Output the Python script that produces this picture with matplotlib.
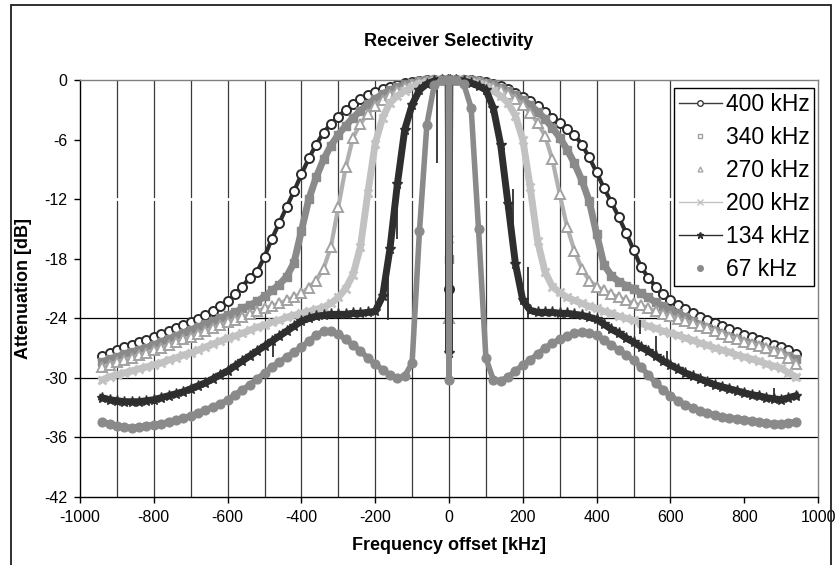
import matplotlib
matplotlib.use('Agg')
import matplotlib.pyplot as plt
from matplotlib.patches import Rectangle
from matplotlib.lines import Line2D

plt.rcParams['font.family'] = ['Liberation Sans', 'DejaVu Sans']
plt.rcParams['axes.unicode_minus'] = False

# frequency sweep (kHz): negative side, narrow DC region, positive side
freq_neg_khz = list(range(-940, -19, 20))
freq_dc_khz = [-2, 0, 2]
freq_pos_khz = list(range(20, 941, 20))

labels = ['400 kHz', '340 kHz', '270 kHz', '200 kHz', '134 kHz', '67 kHz']

# attenuation [dB], -940 -> -20 kHz
db_400_neg = [-27.8, -27.5, -27.2, -26.9, -26.7, -26.4, -26.2, -25.9, -25.6, -25.3,
              -25.0, -24.7, -24.4, -24.1, -23.7, -23.3, -22.8, -22.3, -21.6, -20.8,
              -19.9, -19.3, -17.8, -16.0, -14.4, -12.8, -11.2, -9.5, -7.9, -6.5,
              -5.3, -4.4, -3.7, -3.0, -2.4, -1.9, -1.5, -1.2, -0.9, -0.7,
              -0.5, -0.3, -0.2, -0.1, 0.0, 0.0, 0.0]
db_340_neg = [-28.4, -28.1, -27.9, -27.6, -27.4, -27.2, -27.0, -26.7, -26.4, -26.1,
              -25.8, -25.5, -25.2, -24.9, -24.6, -24.3, -24.0, -23.7, -23.4, -23.0,
              -22.7, -22.3, -21.8, -21.2, -20.6, -19.8, -18.4, -15.2, -12.0, -9.8,
              -8.0, -6.6, -5.5, -4.6, -3.8, -3.1, -2.4, -1.9, -1.4, -1.0,
              -0.7, -0.5, -0.3, -0.1, 0.0, 0.0, 0.0]
db_270_neg = [-28.9, -28.7, -28.4, -28.2, -28.0, -27.7, -27.5, -27.2, -27.0, -26.7,
              -26.4, -26.1, -25.9, -25.6, -25.3, -25.0, -24.7, -24.4, -24.2, -23.9,
              -23.6, -23.3, -23.0, -22.8, -22.5, -22.2, -21.9, -21.5, -20.9, -20.2,
              -19.0, -16.8, -12.8, -8.8, -5.8, -4.4, -3.4, -2.6, -2.0, -1.5,
              -1.1, -0.7, -0.4, -0.2, -0.1, 0.0, 0.0]
db_200_neg = [-30.2, -29.9, -29.7, -29.5, -29.3, -29.1, -28.9, -28.7, -28.5, -28.2,
              -28.0, -27.7, -27.5, -27.2, -26.9, -26.6, -26.3, -26.0, -25.8, -25.5,
              -25.2, -24.9, -24.7, -24.4, -24.2, -23.9, -23.7, -23.5, -23.3, -23.1,
              -22.9, -22.5, -21.9, -21.0, -19.6, -16.8, -11.4, -6.4, -3.8, -2.3,
              -1.6, -1.1, -0.7, -0.4, -0.2, -0.1, 0.0]
db_134_neg = [-32.0, -32.2, -32.3, -32.4, -32.4, -32.4, -32.3, -32.2, -32.0, -31.8,
              -31.6, -31.4, -31.1, -30.8, -30.5, -30.1, -29.7, -29.3, -28.8, -28.3,
              -27.8, -27.3, -26.8, -26.3, -25.8, -25.3, -24.8, -24.3, -24.0, -23.8,
              -23.7, -23.6, -23.6, -23.6, -23.5, -23.5, -23.4, -23.3, -21.8, -17.0,
              -10.5, -5.0, -2.5, -1.0, -0.4, -0.1, 0.0]
db_67_neg = [-34.4, -34.6, -34.8, -34.9, -35.0, -34.9, -34.8, -34.7, -34.6, -34.4,
             -34.2, -34.0, -33.8, -33.5, -33.2, -32.9, -32.6, -32.2, -31.7, -31.2,
             -30.7, -30.1, -29.5, -28.9, -28.4, -27.9, -27.4, -26.9, -26.3, -25.7,
             -25.3, -25.3, -25.6, -26.1, -26.7, -27.3, -28.0, -28.6, -29.2, -29.7,
             -30.0, -29.8, -28.5, -15.2, -4.5, -0.5, 0.0]

# attenuation [dB], 20 -> 940 kHz
db_400_pos = [0.0, 0.0, 0.0, -0.1, -0.2, -0.4, -0.6, -0.9, -1.3, -1.7,
              -2.1, -2.6, -3.2, -3.8, -4.3, -4.9, -5.5, -6.5, -7.8, -9.3,
              -10.9, -12.3, -13.8, -15.4, -17.1, -18.8, -19.9, -20.8, -21.6, -22.2,
              -22.7, -23.1, -23.5, -23.9, -24.2, -24.5, -24.8, -25.1, -25.4, -25.7,
              -25.9, -26.2, -26.4, -26.7, -26.9, -27.2, -27.6]
db_340_pos = [0.0, 0.0, 0.0, -0.1, -0.3, -0.5, -0.8, -1.1, -1.5, -2.0,
              -2.5, -3.2, -3.9, -4.8, -5.8, -7.0, -8.4, -10.1, -12.2, -15.5,
              -18.6, -19.7, -20.3, -20.7, -21.0, -21.5, -21.9, -22.4, -22.8, -23.2,
              -23.5, -23.9, -24.3, -24.7, -25.0, -25.3, -25.6, -25.9, -26.1, -26.4,
              -26.6, -26.8, -27.1, -27.3, -27.5, -27.8, -28.1]
db_270_pos = [0.0, 0.0, -0.1, -0.2, -0.4, -0.7, -1.0, -1.4, -1.9, -2.5,
              -3.3, -4.3, -5.6, -8.0, -11.5, -14.8, -17.2, -19.0, -20.2, -20.8,
              -21.2, -21.6, -21.9, -22.2, -22.5, -22.7, -23.0, -23.3, -23.6, -23.8,
              -24.1, -24.3, -24.5, -24.8, -25.0, -25.3, -25.6, -25.9, -26.1, -26.4,
              -26.6, -26.8, -27.0, -27.3, -27.5, -28.0, -28.6]
db_200_pos = [0.0, -0.1, -0.2, -0.4, -0.7, -1.1, -1.6, -2.3, -3.6, -6.0,
              -10.8, -16.2, -19.3, -20.8, -21.4, -21.9, -22.2, -22.5, -22.8, -23.0,
              -23.3, -23.5, -23.8, -24.0, -24.2, -24.5, -24.8, -25.0, -25.3, -25.5,
              -25.7, -26.0, -26.2, -26.5, -26.7, -27.0, -27.2, -27.4, -27.7, -27.9,
              -28.1, -28.3, -28.6, -28.8, -29.0, -29.5, -29.9]
db_134_pos = [0.0, -0.1, -0.3, -0.6, -1.0, -2.8, -6.5, -12.5, -18.5, -22.2,
              -23.2, -23.4, -23.4, -23.4, -23.5, -23.5, -23.6, -23.7, -23.9, -24.1,
              -24.6, -25.1, -25.5, -26.0, -26.4, -26.9, -27.3, -27.8, -28.3, -28.7,
              -29.1, -29.5, -29.8, -30.1, -30.4, -30.7, -30.9, -31.1, -31.3, -31.5,
              -31.7, -31.8, -32.0, -32.1, -32.2, -32.0, -31.8]
db_67_pos = [0.0, -0.4, -2.8, -15.0, -28.0, -30.2, -30.3, -29.9, -29.3, -28.7,
             -28.2, -27.6, -27.0, -26.5, -26.1, -25.8, -25.5, -25.4, -25.5, -25.7,
             -26.2, -26.7, -27.2, -27.7, -28.2, -28.9, -29.7, -30.5, -31.2, -31.8,
             -32.3, -32.7, -33.0, -33.3, -33.5, -33.7, -33.9, -34.0, -34.1, -34.2,
             -34.3, -34.4, -34.5, -34.6, -34.6, -34.5, -34.4]

# depth of the narrow notch at 0 kHz, per series
dc_notch_db = [-21.0, -18.0, -24.0, -16.0, -27.5, -30.2]

# short spikes in the 134 kHz trace
glitch_khz = [-477, -164, -141, -32, 173, 214, 518, 560, 591, 882]
glitch_top = [-26.0, -19.4, -11.0, -0.5, -11.0, -18.8, -24.2, -25.8, -27.3, -31.0]
glitch_bottom = [-27.9, -24.2, -16.0, -8.4, -16.5, -24.0, -25.6, -27.4, -28.8, -32.4]

neg_sets = [db_400_neg, db_340_neg, db_270_neg, db_200_neg, db_134_neg, db_67_neg]
pos_sets = [db_400_pos, db_340_pos, db_270_pos, db_200_pos, db_134_pos, db_67_pos]

# styles for the dense traces
styles = [
    dict(color='#2e2e2e', lw=3.0, marker='o', ms=6.5, mfc='white', mec='#2a2a2a', mew=1.4),
    dict(color='#8a8a8a', lw=5.0, marker='s', ms=6, mfc='#8a8a8a', mec='#8a8a8a', mew=1.0),
    dict(color='#b0b0b0', lw=3.0, marker='^', ms=7, mfc='white', mec='#a2a2a2', mew=1.4),
    dict(color='#c2c2c2', lw=5.0, marker='x', ms=6, mfc='#c2c2c2', mec='#c2c2c2', mew=2.0),
    dict(color='#2e2e2e', lw=5.0, marker='*', ms=8, mfc='#2e2e2e', mec='#2e2e2e', mew=1.0),
    dict(color='#8a8a8a', lw=4.0, marker='o', ms=6.5, mfc='#8a8a8a', mec='#8a8a8a', mew=0.8),
]
# styles for the small legend samples
legend_styles = [
    dict(color='#3c3c3c', lw=1.0, marker='o', ms=4, mfc='white', mec='#3c3c3c'),
    dict(color='none', lw=0, marker='s', ms=3.5, mfc='white', mec='#a0a0a0'),
    dict(color='none', lw=0, marker='^', ms=3.5, mfc='white', mec='#a8a8a8'),
    dict(color='#c2c2c2', lw=1.0, marker='x', ms=4, mec='#c2c2c2'),
    dict(color='#2e2e2e', lw=1.0, marker='*', ms=5, mfc='#2e2e2e', mec='#2e2e2e'),
    dict(color='none', lw=0, marker='o', ms=4, mfc='#8a8a8a', mec='#8a8a8a'),
]

fig = plt.figure(figsize=(8.4, 5.65), dpi=100)
ax = fig.add_axes([80 / 840, 1 - 497 / 565, 738 / 840, 417 / 565])

# gridlines as they appear in the chart
for xv in range(-900, 601, 100):
    ax.axvline(xv, color='#3a3a3a', lw=0.9, zorder=1)
for yv in (-24, -30, -36):
    ax.axhline(yv, color='black', lw=0.9, zorder=1)
ax.axhline(-12, color='white', lw=2.0, zorder=1.5)

for i in range(len(labels)):
    x = freq_neg_khz + freq_dc_khz + freq_pos_khz
    y = neg_sets[i] + [0.0, dc_notch_db[i], 0.0] + pos_sets[i]
    ax.plot(x, y, zorder=2 + i, clip_on=False, solid_joinstyle='round', **styles[i])

ax.vlines(glitch_khz, glitch_bottom, glitch_top, color='#2e2e2e', lw=1.3, zorder=6.5)

ax.set_xlim(-1000, 1000)
ax.set_ylim(-42, 0)
ax.set_xticks(range(-1000, 1001, 200))
ax.set_yticks(range(-42, 1, 6))
ax.tick_params(direction='out', length=4, width=1, labelsize=11.5, colors='black', pad=5)

for side in ('left', 'bottom'):
    ax.spines[side].set_color('black')
    ax.spines[side].set_linewidth(1.0)
for side in ('top', 'right'):
    ax.spines[side].set_color('#808080')
    ax.spines[side].set_linewidth(1.0)

ax.set_xlabel('Frequency offset [kHz]', fontsize=13, fontweight='bold', labelpad=9)
ax.set_ylabel('Attenuation [dB]', fontsize=13, fontweight='bold', labelpad=9)
fig.text(449 / 840, 1 - 42 / 565, 'Receiver Selectivity', fontsize=13,
         fontweight='bold', ha='center', va='center')

handles = [Line2D([], [], **st) for st in legend_styles]
leg = ax.legend(handles, labels, loc='upper right', bbox_to_anchor=(0.9946, 0.9808),
                fontsize=16.5, frameon=True, fancybox=False, framealpha=1,
                edgecolor='black', borderpad=0.2, labelspacing=0.44,
                handlelength=1.9, handletextpad=0.15, borderaxespad=0)
leg.get_frame().set_linewidth(1.0)
leg.set_zorder(10)

# outer chart border
fig.patches.append(Rectangle((11 / 840, -0.05), (831 - 11) / 840, 1.05 - 5 / 565,
                             transform=fig.transFigure, fill=False,
                             edgecolor='#202020', lw=1.3))

fig.savefig('out.png', dpi=100)
